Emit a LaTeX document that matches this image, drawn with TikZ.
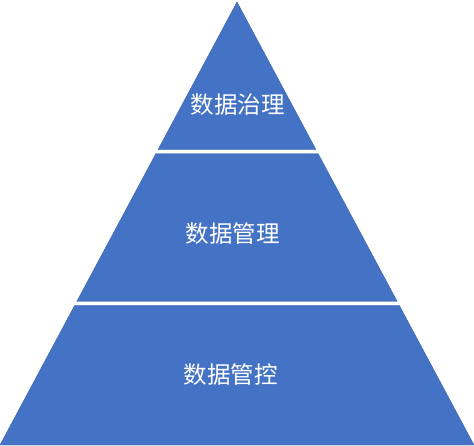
\documentclass[tikz,border=0pt]{standalone}
\usepackage{fontspec}
\newfontfamily\cjk{Noto Sans CJK SC}
\usetikzlibrary{calc}

\definecolor{layerblue}{HTML}{4472C4}
\definecolor{layeredge}{HTML}{3B65B0}

\tikzset{
	layer/.style={fill=layerblue, draw=layeredge, line width=0.4pt, line join=miter},
	layertext/.style={text=white, font=\cjk\fontsize{23.5}{26}\selectfont, inner sep=0pt}
}

\begin{document}
\begin{tikzpicture}[x=1pt, y=-1pt]
		\useasboundingbox (0, 0) rectangle (474, 446);
		
		% corners of the pyramid
		\coordinate (apex) at (237, 2);
		\coordinate (bl) at (0, 445);
		\coordinate (br) at (474, 445);
		
		% top layer
		\draw[layer] (apex) -- ($(apex)!0.333!(br)$) -- ($(apex)!0.333!(bl)$) -- cycle;
		% middle layer
		\draw[layer] ($(apex)!0.342!(bl)$) -- ($(apex)!0.342!(br)$)
			-- ($(apex)!0.676!(br)$) -- ($(apex)!0.676!(bl)$) -- cycle;
		% bottom layer
		\draw[layer] ($(apex)!0.685!(bl)$) -- ($(apex)!0.685!(br)$) -- (br) -- (bl) -- cycle;
		
		\node[layertext] (gov) at (237.5, 105) {数据治理};
		\node[layertext] (mgmt) at (232.5, 234) {数据管理};
		\node[layertext] (ctrl) at (230.5, 374.5) {数据管控};
		
	\end{tikzpicture}
\end{document}
